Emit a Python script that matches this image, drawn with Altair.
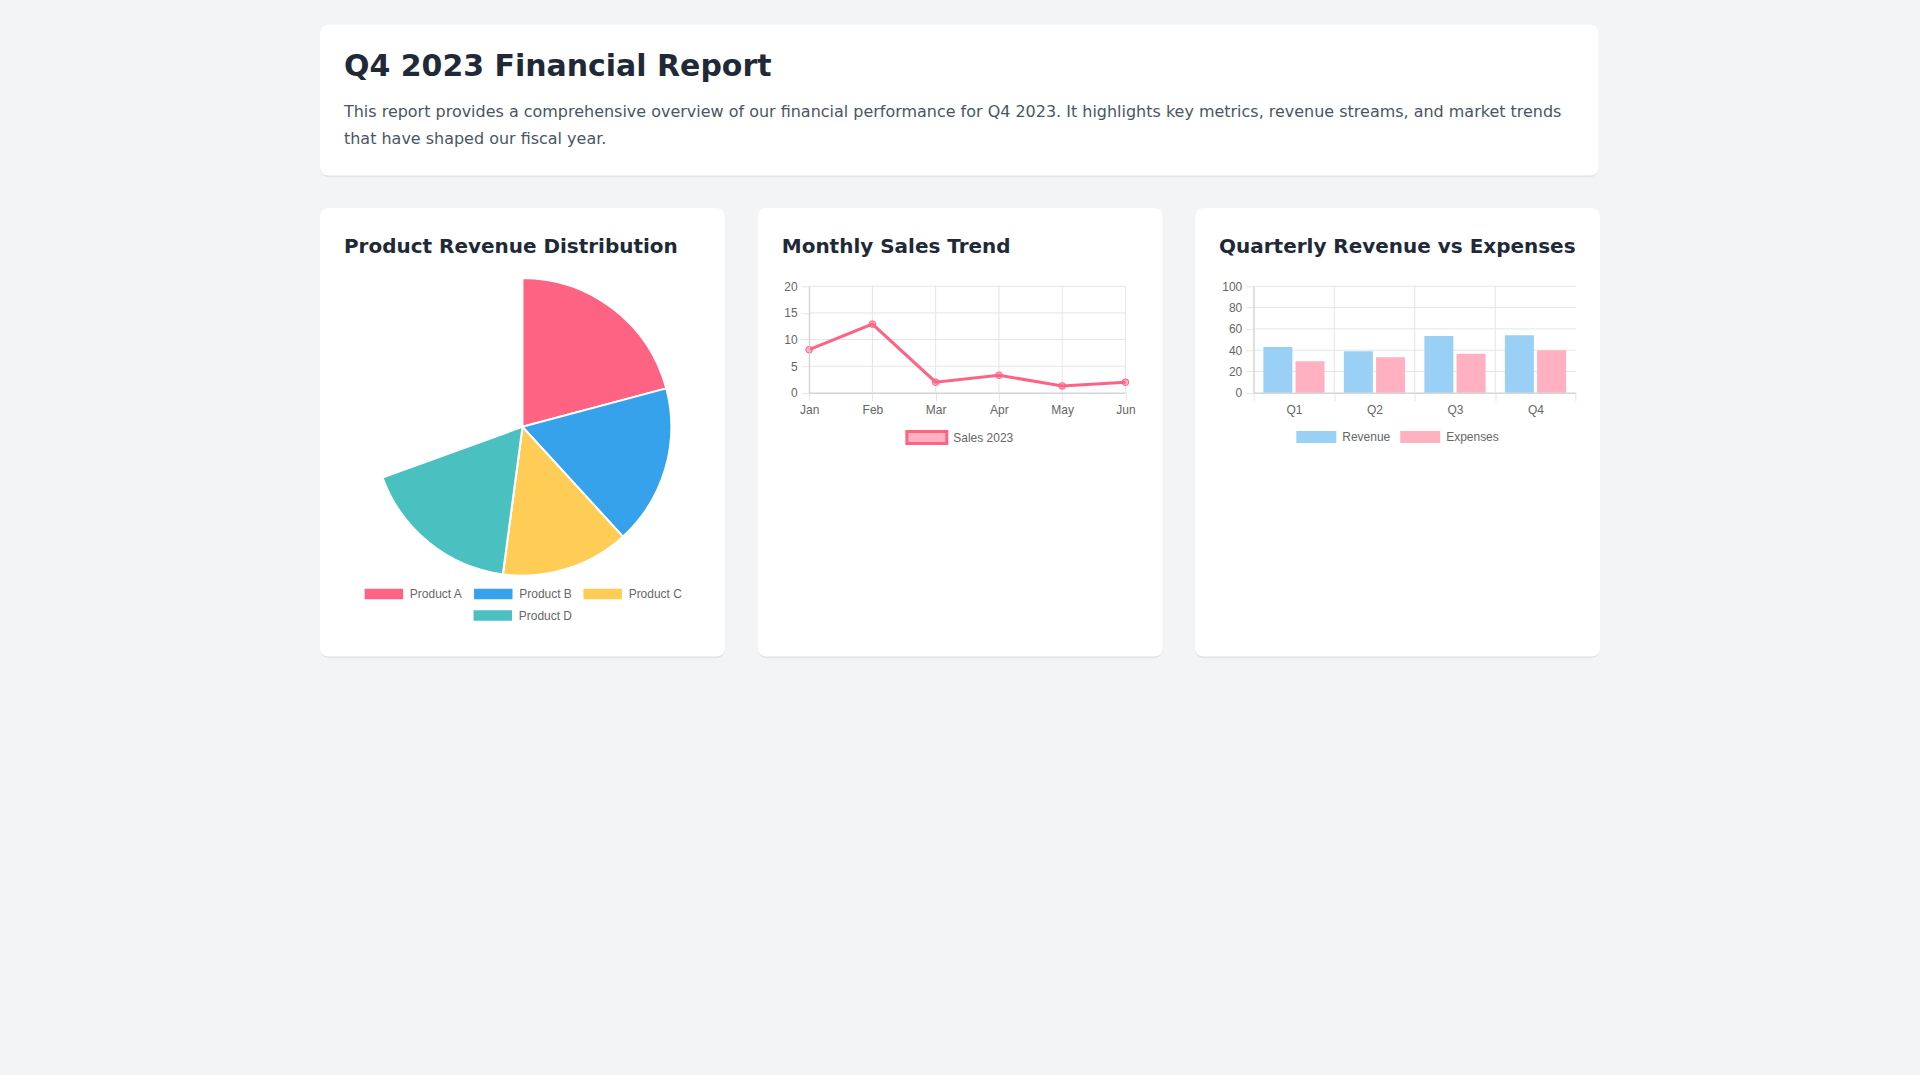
import math
import altair as alt
import pandas as pd

# ---------------- data ----------------
products = ["Product A", "Product B", "Product C", "Product D"]
product_revenue = [30, 25, 20, 25]

months = ["Jan", "Feb", "Mar", "Apr", "May", "Jun"]
sales_2023 = [8.1, 12.9, 2.0, 3.3, 1.3, 2.0]

quarters = ["Q1", "Q2", "Q3", "Q4"]
revenue = [43.1, 39.0, 53.4, 54.1]
expenses = [29.7, 33.4, 36.6, 40.0]

line_ticks = [0, 5, 10, 15, 20]
bar_ticks = [0, 20, 40, 60, 80, 100]

report_title = "Q4 2023 Financial Report"
report_lines = [
    "This report provides a comprehensive overview of our financial performance for Q4 2023. "
    "It highlights key metrics, revenue streams, and market trends",
    "that have shaped our fiscal year.",
]

# ---------------- styles ----------------
PIE_COLORS = ["#ff6384", "#36a2eb", "#ffcd56", "#4bc0c0"]
SALES_LINE = "#ff6384"
SALES_FILL = "#ffb1c1"
REV_FILL = "#9ad0f5"
EXP_FILL = "#ffb1c1"
TITLE_FONT = "DejaVu Sans"
CHART_FONT = "Liberation Sans"
GRID = "#e5e5e5"
LABEL = "#666666"
BOX = "M-1,-0.3H1V0.3H-1Z"
SWEEP = 250.1 / 360 * 2 * math.pi  # pie caught mid-animation

ONE = pd.DataFrame({"k": [0]})

# card rect relative to each view origin (all views share the same top offset)
CARD_TOP, CARD_BOTTOM = -78.3, 370.5
TITLE_Y = -39.3


def card(x0, x1, y0, y1, title=None, tx=0, ty=0):
    shadow_a = alt.Chart(ONE).mark_rect(color="#000000", opacity=0.035, cornerRadius=9).encode(
        x=alt.value(x0), x2=alt.value(x1), y=alt.value(y0 + 1), y2=alt.value(y1 + 2))
    shadow_b = alt.Chart(ONE).mark_rect(color="#000000", opacity=0.05, cornerRadius=8).encode(
        x=alt.value(x0), x2=alt.value(x1), y=alt.value(y0), y2=alt.value(y1 + 1))
    body = alt.Chart(ONE).mark_rect(color="#ffffff", cornerRadius=8).encode(
        x=alt.value(x0), x2=alt.value(x1), y=alt.value(y0), y2=alt.value(y1))
    layers = [shadow_a, shadow_b, body]
    if title:
        layers.append(
            alt.Chart(ONE).mark_text(align="left", baseline="middle", font=TITLE_FONT, fontSize=20,
                                     fontWeight="bold", color="#1f2937").encode(
                x=alt.value(tx), y=alt.value(ty), text=alt.value(title)))
    return layers


# ---------------- header (origin aligned with the pie view origin) ----------------
HX = -53.67
hdr_title = alt.Chart(ONE).mark_text(align="left", baseline="middle", font=TITLE_FONT, fontSize=30,
                                     fontWeight="bold", color="#1f2937").encode(
    x=alt.value(HX + 24), y=alt.value(42.5), text=alt.value(report_title))
hdr_text = alt.Chart(ONE).mark_text(align="left", baseline="middle", font=TITLE_FONT, fontSize=16,
                                    color="#4b5563", lineHeight=27).encode(
    x=alt.value(HX + 24), y=alt.value(88), text=alt.value(report_lines))
header = alt.layer(*card(HX, HX + 1280, 0, 151), hdr_title, hdr_text).properties(
    width=1226, height=151)

# ---------------- pie card ----------------
pie_df = pd.DataFrame({"product": products, "value": product_revenue,
                       "order": list(range(len(products)))})
theta_scale = alt.Scale(domain=[0, sum(product_revenue)], range=[0, SWEEP])
pie_base = alt.Chart(pie_df).transform_window(
    cum="sum(value)", sort=[alt.SortField("order")], frame=[None, 0]
).transform_calculate(start="datum.cum - datum.value")

legend_common = dict(orient="none", direction="horizontal", title=None, symbolType=BOX,
                     symbolSize=1600, labelFont=CHART_FONT, labelFontSize=12, labelColor=LABEL,
                     zindex=1)

arcs = pie_base.mark_arc(stroke="#ffffff", strokeWidth=2, radius=149).encode(
    theta=alt.Theta("start:Q", scale=theta_scale, stack=False),
    theta2="cum:Q",
    color=alt.Color("product:N", scale=alt.Scale(domain=products, range=PIE_COLORS),
                    legend=alt.Legend(values=products[:3], legendX=-10.7, legendY=287,
                                      labelOffset=5, columnPadding=7.5, **legend_common)),
)
arc_last = pie_base.transform_filter(alt.datum.product == products[3]).mark_arc(
    stroke="#ffffff", strokeWidth=2, radius=149).encode(
    theta=alt.Theta("start:Q", scale=theta_scale, stack=False),
    theta2="cum:Q",
    fill=alt.Fill("product:N", scale=alt.Scale(domain=[products[3]], range=[PIE_COLORS[3]]),
                  legend=alt.Legend(legendX=98.3, legendY=308.7, labelOffset=5,
                                    columnPadding=7.5, **legend_common)),
)
pie_card = alt.layer(
    *card(-53.67, 351.63, CARD_TOP, CARD_BOTTOM, "Product Revenue Distribution", -29.67, TITLE_Y),
    arcs, arc_last,
).properties(width=298, height=281.4)

# ---------------- line card ----------------
line_df = pd.DataFrame({"month": months, "sales": sales_2023,
                        "series": ["Sales 2023"] * len(months)})
lx = alt.X("month:N", sort=months, scale=alt.Scale(type="point", padding=0),
           axis=alt.Axis(title=None, labelAngle=0, grid=False, zindex=1))
ly = alt.Y("sales:Q", scale=alt.Scale(domain=[0, 20]),
           axis=alt.Axis(title=None, values=line_ticks, grid=False, zindex=1))
l_hgrid = alt.Chart(pd.DataFrame({"sales": line_ticks})).mark_rule(color=GRID, strokeWidth=1).encode(y=ly)
l_vgrid = alt.Chart(pd.DataFrame({"month": months})).mark_rule(color=GRID, strokeWidth=1).encode(x=lx)
line = alt.Chart(line_df).mark_line(strokeWidth=3).encode(
    x=lx, y=ly,
    stroke=alt.Stroke("series:N", scale=alt.Scale(domain=["Sales 2023"], range=[SALES_LINE]),
                      legend=alt.Legend(orient="none", legendX=96.3, legendY=130, title=None,
                                        symbolType=BOX, symbolSize=1600, symbolStrokeWidth=3,
                                        symbolFillColor=SALES_FILL, labelOffset=5,
                                        labelFont=CHART_FONT, labelFontSize=12, labelColor=LABEL,
                                        zindex=1)),
)
pts = alt.Chart(line_df).mark_point(filled=True, size=45, fill=SALES_LINE, fillOpacity=0.5,
                                    stroke=SALES_LINE, strokeWidth=1, opacity=1).encode(x=lx, y=ly)
line_card = alt.layer(
    *card(-51.37, 353.97, CARD_TOP, CARD_BOTTOM, "Monthly Sales Trend", -27.37, TITLE_Y),
    l_hgrid, l_vgrid, line, pts,
).properties(width=316.6, height=106.7)

# ---------------- bar card ----------------
bar_df = pd.DataFrame({
    "quarter": quarters + quarters,
    "type": ["Revenue"] * len(quarters) + ["Expenses"] * len(quarters),
    "amount": revenue + expenses,
})
bx_scale = alt.Scale(paddingInner=0, paddingOuter=0)
bx_axis = alt.Axis(title=None, labelAngle=0, grid=False, tickBand="extent", zindex=1)
by = alt.Y("amount:Q", scale=alt.Scale(domain=[0, 100]),
           axis=alt.Axis(title=None, values=bar_ticks, grid=False, zindex=1))
b_hgrid = alt.Chart(pd.DataFrame({"amount": bar_ticks})).mark_rule(color=GRID, strokeWidth=1).encode(y=by)
b_vgrid = alt.Chart(pd.DataFrame({"quarter": quarters})).mark_rule(color=GRID, strokeWidth=1).encode(
    x=alt.X("quarter:N", sort=quarters, scale=bx_scale, axis=bx_axis, bandPosition=0))
bars = alt.Chart(bar_df).mark_bar().encode(
    x=alt.X("quarter:N", sort=quarters, scale=bx_scale, axis=bx_axis),
    y=by,
    xOffset=alt.XOffset("type:N", sort=["Revenue", "Expenses"],
                        scale=alt.Scale(paddingInner=0.1, paddingOuter=0.3)),
    color=alt.Color("type:N", scale=alt.Scale(domain=["Revenue", "Expenses"],
                                              range=[REV_FILL, EXP_FILL]),
                    legend=alt.Legend(legendX=42.7, legendY=131, symbolStrokeWidth=0,
                                      labelOffset=6, columnPadding=9, **legend_common)),
)
bar_card = alt.layer(
    *card(-58.63, 346.7, CARD_TOP, CARD_BOTTOM, "Quarterly Revenue vs Expenses", -34.63, TITLE_Y),
    b_hgrid, b_vgrid, bars,
).properties(width=322.4, height=106.7)

# ---------------- page ----------------
cards = alt.hconcat(pie_card, line_card, bar_card, spacing=32).resolve_scale(
    color="independent", fill="independent", stroke="independent", theta="independent"
).resolve_legend(color="independent", fill="independent", stroke="independent")

chart = alt.vconcat(header, cards, spacing=30).properties(
    background="#f3f4f6",
    padding={"left": 320, "top": 24, "right": 320, "bottom": 416},
).configure_axis(
    labelFont=CHART_FONT, labelFontSize=12, labelColor=LABEL, tickColor=GRID, tickSize=8,
    domainColor="#cfcfcf", labelPadding=4, labelFlush=False,
).configure_view(strokeWidth=0)

chart.save("out.html", embed_options={"renderer": "svg", "actions": False})
